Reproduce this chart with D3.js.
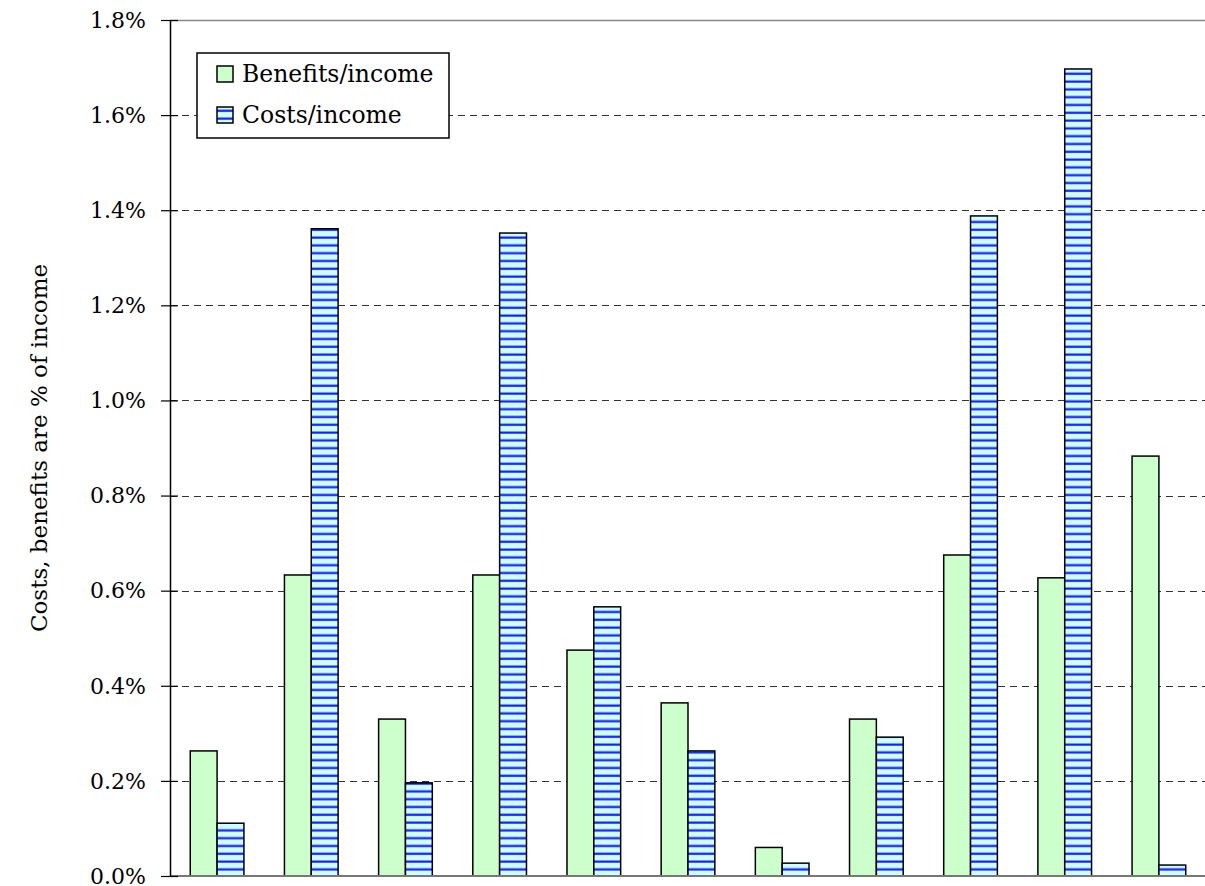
<!DOCTYPE html>
<html>
<head>
<meta charset="utf-8">
<script src="https://cdn.jsdelivr.net/npm/d3@7"></script>
<style>
  body { margin: 0; background: #fff; }
  text { font-family: "DejaVu Serif", serif; fill: #000; }
</style>
</head>
<body>
<div id="chart"></div>
<script>
// groups have no printed labels in the original
var groups = ["g1", "g2", "g3", "g4", "g5", "g6", "g7", "g8", "g9", "g10", "g11"];
var benefits = [0.263, 0.633, 0.330, 0.633, 0.475, 0.364, 0.060, 0.330, 0.675, 0.627, 0.883];
var costs = [0.111, 1.361, 0.196, 1.352, 0.566, 0.263, 0.027, 0.292, 1.388, 1.697, 0.023];
var seriesNames = ["Benefits/income", "Costs/income"];
var yTicks = [0, 0.2, 0.4, 0.6, 0.8, 1.0, 1.2, 1.4, 1.6, 1.8];

var W = 1205, H = 886;
var margin = { left: 170, top: 20, right: -1, bottom: 10 };

var svg = d3.select("#chart").append("svg")
    .attr("width", W)
    .attr("height", H);

var defs = svg.append("defs");
var pat = defs.append("pattern")
    .attr("id", "stripes")
    .attr("patternUnits", "userSpaceOnUse")
    .attr("width", 10)
    .attr("height", 7.8);
pat.append("rect").attr("width", 10).attr("height", 7.8).attr("fill", "#ccffff");
pat.append("rect").attr("y", 2.5).attr("width", 10).attr("height", 2.2).attr("fill", "#1a1aff");

var x0 = d3.scaleBand()
    .domain(groups)
    .range([margin.left, W - margin.right])
    .padding(0);
var step = x0.step();

// two bars per group, ~20px gap on each side
var x1 = d3.scaleBand()
    .domain([0, 1])
    .range([0, step])
    .paddingInner(0)
    .paddingOuter(0.755);

var y = d3.scaleLinear()
    .domain([0, 1.8])
    .range([H - margin.bottom, margin.top]);

// gridlines
svg.append("g")
  .selectAll("line")
  .data(yTicks.filter(function(d) { return d > 0 && d < 1.8; }))
  .enter().append("line")
    .attr("x1", margin.left)
    .attr("x2", W)
    .attr("y1", function(d) { return Math.round(y(d)) + 0.5; })
    .attr("y2", function(d) { return Math.round(y(d)) + 0.5; })
    .attr("stroke", "#333")
    .attr("stroke-width", 1.2)
    .attr("stroke-dasharray", "7,5");

// top frame line
svg.append("line")
    .attr("x1", margin.left).attr("x2", W)
    .attr("y1", Math.round(y(1.8)) + 0.5).attr("y2", Math.round(y(1.8)) + 0.5)
    .attr("stroke", "#888").attr("stroke-width", 1.5);

// bars
var data = groups.map(function(g, i) { return { g: g, vals: [benefits[i], costs[i]] }; });

var grp = svg.append("g").selectAll("g")
    .data(data)
    .enter().append("g")
    .attr("transform", function(d) { return "translate(" + x0(d.g) + ",0)"; });

grp.selectAll("rect")
    .data(function(d) { return d.vals.map(function(v, k) { return { k: k, v: v }; }); })
    .enter().append("rect")
    .attr("x", function(d) { return x1(d.k); })
    .attr("width", x1.bandwidth())
    .attr("y", function(d) { return y(d.v); })
    .attr("height", function(d) { return y(0) - y(d.v); })
    .attr("fill", function(d) { return d.k == 0 ? "#ccffcc" : "url(#stripes)"; })
    .attr("stroke", "#000")
    .attr("stroke-width", 1.5);

// bottom axis line
svg.append("line")
    .attr("x1", margin.left).attr("x2", W)
    .attr("y1", y(0)).attr("y2", y(0))
    .attr("stroke", "#777").attr("stroke-width", 2);

// y axis
var yAxis = d3.axisLeft(y)
    .tickValues(yTicks)
    .tickSize(0)
    .tickFormat(function(d) { return d.toFixed(1) + "%"; });

var ya = svg.append("g")
    .attr("transform", "translate(" + margin.left + ",0)")
    .call(yAxis);
ya.select(".domain").attr("stroke", "#000").attr("stroke-width", 1.5);
ya.selectAll(".tick line")
    .attr("x1", -9).attr("x2", 8)
    .attr("stroke", "#000").attr("stroke-width", 1.2);
ya.selectAll(".tick text")
    .attr("x", -24)
    .attr("dy", "0.33em")
    .style("font-family", "DejaVu Serif")
    .style("font-size", "22px");

// axis title
svg.append("text")
    .attr("transform", "translate(47," + ((y(0) + y(1.8)) / 2) + ") rotate(-90)")
    .attr("text-anchor", "middle")
    .style("font-size", "23px")
    .text("Costs, benefits are % of income");

// legend
var lg = svg.append("g").attr("transform", "translate(197,53)");
lg.append("rect")
    .attr("width", 252).attr("height", 85)
    .attr("fill", "#fff").attr("stroke", "#000").attr("stroke-width", 1.5);
var items = lg.selectAll(".item")
    .data(seriesNames)
    .enter().append("g")
    .attr("class", "item")
    .attr("transform", function(d, i) { return "translate(20," + (21 + i * 41) + ")"; });
items.append("rect")
    .attr("y", -8).attr("width", 16).attr("height", 16)
    .attr("fill", function(d, i) { return i == 0 ? "#ccffcc" : "url(#stripes)"; })
    .attr("stroke", "#000").attr("stroke-width", 1.5);
items.append("text")
    .attr("x", 25)
    .attr("dy", "0.35em")
    .style("font-size", "23.5px")
    .text(function(d) { return d; });
</script>
</body>
</html>
